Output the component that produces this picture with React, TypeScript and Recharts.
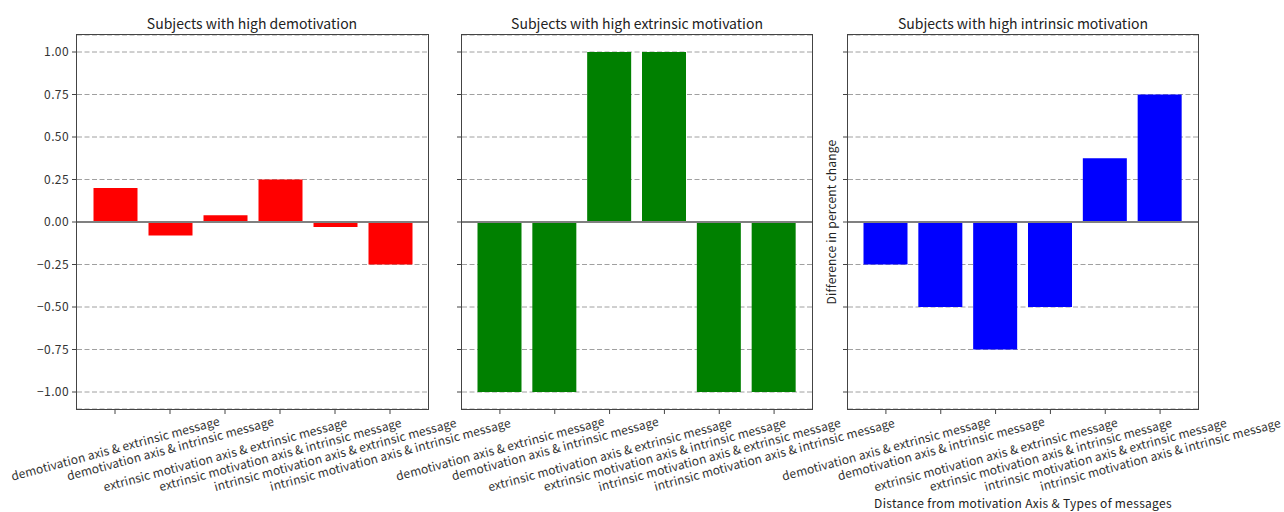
import { Bar, BarChart, CartesianGrid, ReferenceLine, XAxis, YAxis } from "recharts"

const categories = [
  "demotivation axis & extrinsic message",
  "demotivation axis & intrinsic message",
  "extrinsic motivation axis & extrinsic message",
  "extrinsic motivation axis & intrinsic message",
  "intrinsic motivation axis & extrinsic message",
  "intrinsic motivation axis & intrinsic message",
]

const demotivationValues = [0.2, -0.08, 0.04, 0.25, -0.03, -0.25]
const extrinsicValues = [-1, -1, 1, 1, -1, -1]
const intrinsicValues = [-0.25, -0.5, -0.75, -0.5, 0.375, 0.75]

const yTicks = [-1, -0.75, -0.5, -0.25, 0, 0.25, 0.5, 0.75, 1]

const titles = [
  "Subjects with high demotivation",
  "Subjects with high extrinsic motivation",
  "Subjects with high intrinsic motivation",
]

const FONT = "'Noto Sans CJK JP', 'Noto Sans', sans-serif"
const TEXT = "#333"
const SPINE = "#444"
const PLOT_TOP = 35
const PLOT_BOTTOM = 409

const SIN = Math.sin((15 * Math.PI) / 180)
const COS = Math.cos((15 * Math.PI) / 180)

// matplotlib-style rotated label, centered under its tick
const AngledTick = ({ x, y, payload }: any) => {
  const label = String(payload.value)
  const w = label.length * 5.7
  const boxH = w * SIN + 11 * COS
  const cy = y + 1 + boxH / 2
  return (
    <text
      x={x}
      y={cy}
      transform={`rotate(-15, ${x}, ${cy})`}
      textAnchor="middle"
      dominantBaseline="central"
      fontSize={12}
      letterSpacing={0.1}
      fontFamily={FONT}
      fill={TEXT}
    >
      {label}
    </text>
  )
}

const fmt = (v: number) => v.toFixed(2).replace("-", "\u2212")

type PanelProps = {
  values: number[]
  color: string
  left: number
  width: number
  axisWidth: number
  rightMargin: number
  showLabels: boolean
}

function Panel({ values, color, left, width, axisWidth, rightMargin, showLabels }: PanelProps) {
  const data = categories.map((cat, i) => ({ cat, value: values[i] }))
  const plotW = width - axisWidth - rightMargin
  return (
    <div style={{ position: "absolute", left, top: 0 }}>
      <BarChart
        width={width}
        height={512}
        data={data}
        margin={{ top: PLOT_TOP, right: rightMargin, bottom: 0, left: 0 }}
      >
        <CartesianGrid vertical={false} stroke="#a0a0a0" strokeDasharray="5 2.5" />
        <XAxis
          dataKey="cat"
          interval={0}
          height={512 - PLOT_BOTTOM}
          padding={{ left: 10.5, right: 10.5 }}
          tick={<AngledTick />}
          tickSize={5}
          tickMargin={0}
          axisLine={false}
          tickLine={{ stroke: SPINE }}
        />
        <YAxis
          type="number"
          domain={[-1.1, 1.1]}
          ticks={yTicks}
          width={axisWidth}
          tickSize={5}
          tickMargin={3}
          tickFormatter={(v: number) => (showLabels ? fmt(v) : "")}
          tick={{ fontSize: 12, fontFamily: FONT, fill: TEXT, letterSpacing: 0.4 }}
          axisLine={false}
          tickLine={{ stroke: SPINE }}
        />
        <Bar dataKey="value" fill={color} barSize={44} isAnimationActive={false} />
        <ReferenceLine y={0} stroke="#808080" strokeWidth={2} />
      </BarChart>
      {/* plot frame (spines) */}
      <div
        style={{
          position: "absolute",
          left: axisWidth - 1,
          top: PLOT_TOP - 1,
          width: plotW,
          height: PLOT_BOTTOM - PLOT_TOP,
          border: `1.2px solid ${SPINE}`,
          pointerEvents: "none",
        }}
      />
    </div>
  )
}

const titleStyle = (center: number): React.CSSProperties => ({
  position: "absolute",
  left: center - 200,
  width: 400,
  top: 13,
  textAlign: "center",
  fontSize: 14,
  fontFamily: FONT,
  color: "#222",
  lineHeight: "20px",
})

export default function App() {
  return (
    <div style={{ position: "relative", width: 1284, height: 512, background: "#fff" }}>
      <style>{`body{margin:0} .recharts-surface{overflow:visible}`}</style>
      <Panel values={demotivationValues} color="#ff0000" left={0} width={440} axisWidth={77} rightMargin={12} showLabels />
      <Panel values={extrinsicValues} color="#008000" left={440} width={385} axisWidth={22} rightMargin={13} showLabels={false} />
      <Panel values={intrinsicValues} color="#0000ff" left={825} width={459} axisWidth={23} rightMargin={86} showLabels={false} />
      <div style={titleStyle(252)}>{titles[0]}</div>
      <div style={titleStyle(637)}>{titles[1]}</div>
      <div style={titleStyle(1023)}>{titles[2]}</div>
      <div
        style={{
          position: "absolute",
          left: 831 - 100,
          top: 222 - 8,
          width: 200,
          textAlign: "center",
          transform: "rotate(-90deg)",
          fontSize: 12,
          letterSpacing: 0.2,
          fontFamily: FONT,
          color: "#222",
          lineHeight: "16px",
        }}
      >
        Difference in percent change
      </div>
      <div
        style={{
          position: "absolute",
          left: 1023 - 200,
          width: 400,
          top: 495,
          textAlign: "center",
          fontSize: 12,
          letterSpacing: 0.3,
          fontFamily: FONT,
          color: "#222",
          lineHeight: "16px",
        }}
      >
        Distance from motivation Axis &amp; Types of messages
      </div>
    </div>
  )
}
